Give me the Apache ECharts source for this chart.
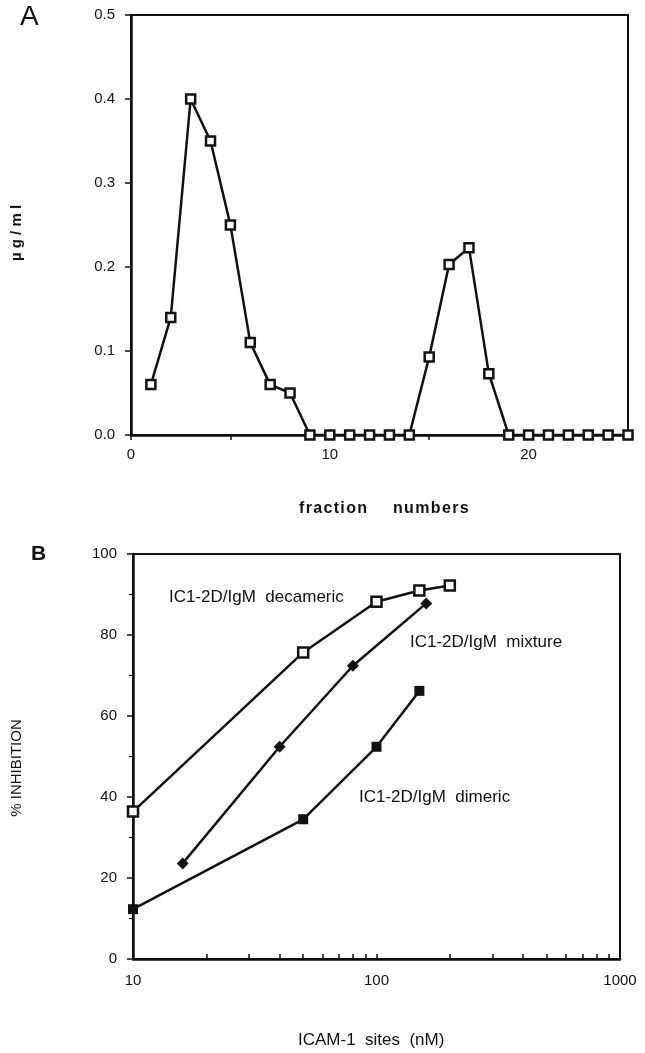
<!DOCTYPE html>
<html><head><meta charset="utf-8">
<script src="https://cdn.jsdelivr.net/npm/echarts@6/dist/echarts.min.js"></script>
<style>html,body{margin:0;padding:0;background:#fff}#c{width:645px;height:1053px}</style>
</head><body><div id="c"></div>
<script>
// Panel A: fraction numbers vs µg/ml
const fractions = [1,2,3,4,5,6,7,8,9,10,11,12,13,14,15,16,17,18,19,20,21,22,23,24,25];
const concA = [0.06,0.14,0.40,0.35,0.25,0.11,0.06,0.05,0,0,0,0,0,0,0.093,0.203,0.223,0.073,0,0,0,0,0,0,0];
const yTicksA = [0.0,0.1,0.2,0.3,0.4,0.5];
const xLabelsA = [0,10,20];
// Panel B: ICAM-1 sites (nM) vs % inhibition
const decamericX = [10,50,100,150,200];
const decamericY = [36.4,75.7,88.2,91.0,92.2];
const mixtureX = [16,40,80,160];
const mixtureY = [23.6,52.4,72.4,87.8];
const dimericX = [10,50,100,150];
const dimericY = [12.3,34.5,52.4,66.2];
const xLabelsB = [10,100,1000];
const xTicksB = [10,20,30,40,50,60,70,80,90,100,200,300,400,500,600,700,800,900,1000];

const F = '"Liberation Sans", Arial, Helvetica, sans-serif';
const chart = echarts.init(document.getElementById('c'), null, {renderer:'canvas'});
const black = '#111';
const openSq = {symbol:'rect', itemStyle:{color:'#fff', borderColor:black, borderWidth:2.5}};
const hs = '\u200A';
chart.setOption({
  animation:false,
  backgroundColor:'#fff',
  grid:[
    {left:131, right:17, top:15, height:420, show:true, borderColor:black, borderWidth:2, backgroundColor:'transparent'},
    {left:133, right:25, top:554, height:405, show:true, borderColor:black, borderWidth:2, backgroundColor:'transparent'}
  ],
  xAxis:[
    {gridIndex:0, type:'value', min:0, max:25, interval:5,
     axisLine:{lineStyle:{color:black,width:2.5}}, axisTick:{show:true, length:5, lineStyle:{color:black,width:1.5}},
     splitLine:{show:false},
     axisLabel:{color:black, fontFamily:F, fontSize:15, margin:12, formatter:v=>xLabelsA.includes(v)?String(v):''}},
    {gridIndex:1, type:'log', logBase:10, min:10, max:1000,
     axisLine:{lineStyle:{color:black,width:2.5}},
     axisTick:{show:true, inside:true, length:5, customValues:xTicksB, lineStyle:{color:black,width:1.5}},
     splitLine:{show:false},
     axisLabel:{color:black, fontFamily:F, fontSize:15, margin:14, customValues:xLabelsB, formatter:v=>String(v)}}
  ],
  yAxis:[
    {gridIndex:0, type:'value', min:0, max:0.5, interval:0.1,
     axisLine:{show:true, lineStyle:{color:black,width:2.5}}, axisTick:{show:true, length:6, lineStyle:{color:black,width:1.5}},
     splitLine:{show:false},
     axisLabel:{color:black, fontFamily:F, fontSize:15, margin:16, formatter:v=>v.toFixed(1)}},
    {gridIndex:1, type:'value', min:0, max:100, interval:20,
     axisLine:{show:true, lineStyle:{color:black,width:2.5}}, axisTick:{show:true, length:6, lineStyle:{color:black,width:1.5}},
     minorTick:{show:true, splitNumber:2, length:4, lineStyle:{color:black,width:1.2}},
     splitLine:{show:false},
     axisLabel:{color:black, fontFamily:F, fontSize:15, margin:16}}
  ],
  series:[
    Object.assign({type:'line', xAxisIndex:0, yAxisIndex:0, data:fractions.map((f,i)=>[f,concA[i]]),
      symbolSize:9, lineStyle:{color:black,width:2.5}, z:3}, openSq),
    Object.assign({type:'line', xAxisIndex:1, yAxisIndex:1, data:decamericX.map((x,i)=>[x,decamericY[i]]),
      symbolSize:10, lineStyle:{color:black,width:2.5}, z:3}, openSq),
    {type:'line', xAxisIndex:1, yAxisIndex:1, data:mixtureX.map((x,i)=>[x,mixtureY[i]]),
      symbol:'diamond', symbolSize:12, itemStyle:{color:black}, lineStyle:{color:black,width:2.5}, z:3},
    {type:'line', xAxisIndex:1, yAxisIndex:1, data:dimericX.map((x,i)=>[x,dimericY[i]]),
      symbol:'rect', symbolSize:10, itemStyle:{color:black}, lineStyle:{color:black,width:2.5}, z:3}
  ],
  graphic:[
    {type:'text', left:20, top:3, style:{text:'A', font:'28px '+F, fill:black}},
    {type:'text', x:17, y:233, rotation:Math.PI/2, style:{text:'µ g / m l', font:'bold 15px '+F, fill:black, align:'center', verticalAlign:'middle'}},
    {type:'text', x:299, y:509, style:{text:'fraction'.split('').join(hs), font:'bold 16px '+F, fill:black, align:'left', verticalAlign:'middle'}},
    {type:'text', x:393, y:509, style:{text:'numbers'.split('').join(hs), font:'bold 16px '+F, fill:black, align:'left', verticalAlign:'middle'}},
    {type:'text', left:31, top:544, style:{text:'B', font:'bold 21px '+F, fill:black}},
    {type:'text', x:17, y:768, rotation:Math.PI/2, style:{text:'% INHIBITION', font:'15px '+F, fill:black, align:'center', verticalAlign:'middle'}},
    {type:'text', x:298, y:1040, style:{text:'ICAM-1  sites  (nM)', font:'17px '+F, fill:black, align:'left', verticalAlign:'middle'}},
    {type:'text', x:169, y:597, style:{text:'IC1-2D/IgM  decameric', font:'17px '+F, fill:black, align:'left', verticalAlign:'middle'}},
    {type:'text', x:410, y:642, style:{text:'IC1-2D/IgM  mixture', font:'17px '+F, fill:black, align:'left', verticalAlign:'middle'}},
    {type:'text', x:359, y:797, style:{text:'IC1-2D/IgM  dimeric', font:'17px '+F, fill:black, align:'left', verticalAlign:'middle'}}
  ]
});
</script></body></html>
